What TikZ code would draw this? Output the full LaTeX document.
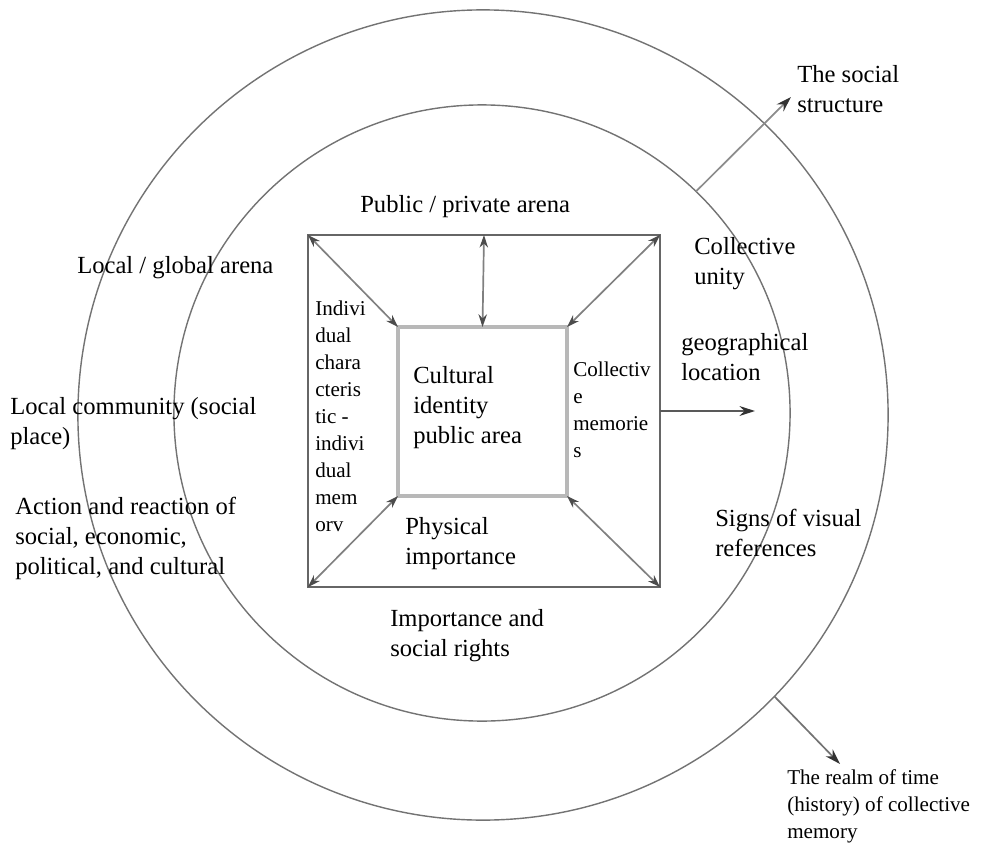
\documentclass[tikz,border=0pt]{standalone}
\usepackage{fontspec}
\setmainfont{Liberation Serif}
\usetikzlibrary{arrows.meta}

\begin{document}
\begin{tikzpicture}[x=0.025cm,y=-0.025cm,
  lbl/.style={anchor=west,align=left,inner sep=0pt,font=\fontsize{17.5}{21.3}\selectfont},
  sml/.style={anchor=west,align=left,inner sep=0pt,font=\fontsize{15}{19.2}\selectfont},
  ring/.style={circle,draw=black!55,line width=1pt,inner sep=0pt,outer sep=0pt},
  box/.style={draw,inner sep=0pt,outer sep=0pt},
  dbl/.style={{Stealth[length=9pt,width=6pt,color=black!70]}-{Stealth[length=9pt,width=6pt,color=black!70]},draw=black!50,line width=1.2pt},
  one/.style={-{Stealth[length=11pt,width=7pt,color=black!80]},line width=1.2pt}]
\useasboundingbox (0,0) rectangle (991,847);
% the two rings
\node[ring,minimum size=20.25cm] (bigring) at (483,415) {};
\node[ring,minimum size=15.4cm] (midring) at (482,413) {};
% the two squares
\node[box,draw=black!60,line width=1.8pt,minimum size=8.8cm] (outbox) at (484,411) {};
\node[box,draw=black!28,line width=2.6pt,minimum size=4.225cm] (inbox) at (482.5,411.5) {};
\draw[dbl] (inbox.north west) -- (outbox.north west);
\draw[dbl] (inbox.north east) -- (outbox.north east);
\draw[dbl] (inbox.south west) -- (outbox.south west);
\draw[dbl] (inbox.south east) -- (outbox.south east);
\draw[dbl] (inbox.north) -- (outbox.north);
% outgoing arrows
\coordinate (geotip) at (755,411);
\coordinate (socialtip) at (791,97);
\coordinate (realmtip) at (840,764);
\draw[one,draw=black!65] (outbox.east) -- (geotip);
\draw[one,draw=black!45] (midring.46) -- (socialtip);
\draw[one,draw=black!55] (bigring.-44.5) -- (realmtip);
% labels
\node[lbl] (pubpriv) at (360,207) {Public / private arena};
\node[lbl] (locglob) at (77,268) {Local / global arena};
\node[lbl] (loccom) at (10,424) {Local community (social\\place)};
\node[lbl] (action) at (15,538) {Action and reaction of\\social, economic,\\political, and cultural};
\node[lbl] (imprights) at (390,636) {Importance and\\social rights};
\node[lbl] (physical) at (405,544) {Physical\\importance};
\node[lbl] (cultural) at (413,408) {Cultural\\identity\\public area};
\node[sml] (collmem) at (573,410) {Collectiv\\e\\memorie\\s};
\node[sml] (indiv) at (315,416) {Indivi\\dual\\chara\\cteris\\tic -\\indivi\\dual\\mem\\orv};
\node[lbl] (unity) at (694,264) {Collective\\unity};
\node[lbl] (geo) at (681,357) {geographical\\location};
\node[lbl] (social) at (797,89) {The social\\structure};
\node[lbl] (signs) at (715,533) {Signs of visual\\references};
\node[sml] (realm) at (787,806) {The realm of time\\(history) of collective\\memory};
\end{tikzpicture}
\end{document}
